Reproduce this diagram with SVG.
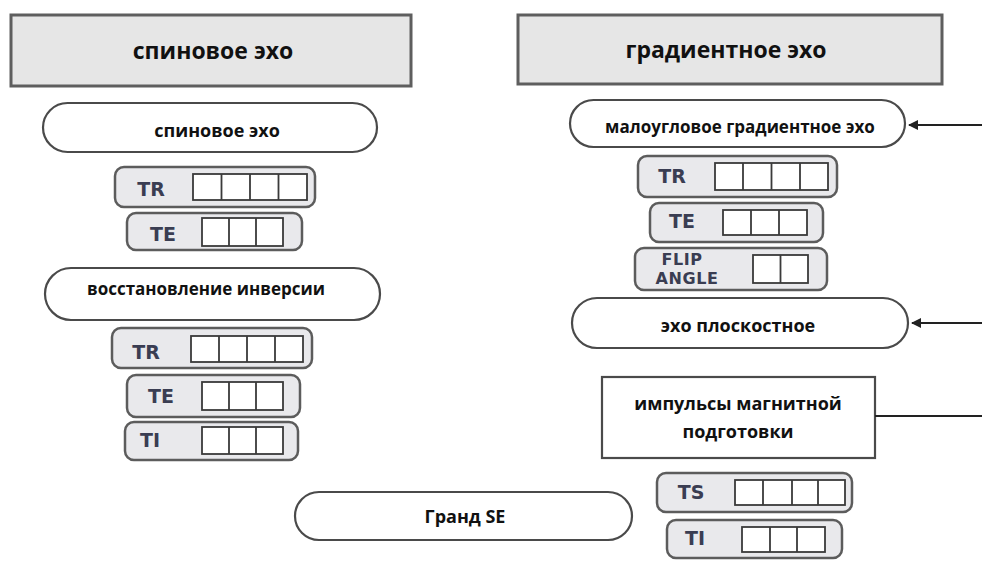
<svg xmlns="http://www.w3.org/2000/svg" width="982" height="569" viewBox="0 0 982 569">
<style>
  .hdr { fill: #e6e6e6; stroke: #5e5e5e; stroke-width: 3; }
  .pill { fill: #ffffff; stroke: #4a4a4a; stroke-width: 2.2; }
  .box { fill: #ffffff; stroke: #4a4a4a; stroke-width: 2.2; }
  .param { fill: #e9e9ec; stroke: #5c5c5c; stroke-width: 2.5; }
  .cells { fill: #ffffff; stroke: #3a3a3a; stroke-width: 1.8; }
  .div { stroke: #3a3a3a; stroke-width: 1.8; }
  .t { font-family: "Open Sans", "Noto Sans", "DejaVu Sans", sans-serif; font-weight: bold; fill: #111; text-anchor: middle; }
  .h { font-size: 23px; }
  .p { font-size: 17px; }
  .lbl { font-family: "DejaVu Sans", "Noto Sans", sans-serif; font-weight: bold; fill: #3a3d52; text-anchor: middle; font-size: 19px; }
  .lbls { font-family: "DejaVu Sans", "Noto Sans", sans-serif; font-weight: bold; fill: #3a3d52; text-anchor: middle; font-size: 16px; letter-spacing: 0.6px; }
  .conn { stroke: #222; stroke-width: 2; fill: none; }
</style>
<defs>
  <marker id="arr" viewBox="0 0 10 10" refX="9" refY="5" markerWidth="5" markerHeight="5" orient="auto">
    <path d="M0,0 L10,5 L0,10 Z" fill="#222"/>
  </marker>
</defs>

<g id="hdr-spin">
  <rect class="hdr" x="11" y="15" width="400" height="71"/>
  <text class="t h" x="213" y="59">спиновое эхо</text>
</g>
<g id="hdr-grad">
  <rect class="hdr" x="518" y="15" width="424" height="69"/>
  <text class="t h" x="726" y="58">градиентное эхо</text>
</g>

<g id="pill-se">
  <rect class="pill" x="43" y="103" width="334" height="49" rx="24.5"/>
  <text class="t" font-size="18" x="217" y="137">спиновое эхо</text>
</g>
<g id="se-tr">
  <rect class="param" x="115" y="167" width="200" height="40" rx="9"/>
  <text class="lbl" x="151" y="196">TR</text>
  <rect class="cells" x="193" y="174" width="114" height="26"/>
  <path class="div" d="M221.5,174v26M250,174v26M278.5,174v26"/>
</g>
<g id="se-te">
  <rect class="param" x="127" y="213" width="175" height="37" rx="9"/>
  <text class="lbl" x="163" y="241">TE</text>
  <rect class="cells" x="202" y="218" width="81" height="28"/>
  <path class="div" d="M229,218v28M256,218v28"/>
</g>

<g id="pill-ir">
  <rect class="pill" x="45" y="268" width="335" height="52" rx="26"/>
  <text class="t p" x="206" y="295">восстановление инверсии</text>
</g>
<g id="ir-tr">
  <rect class="param" x="112" y="328" width="200" height="40" rx="9"/>
  <text class="lbl" x="146" y="359">TR</text>
  <rect class="cells" x="191" y="336" width="112" height="26"/>
  <path class="div" d="M219,336v26M247,336v26M275,336v26"/>
</g>
<g id="ir-te">
  <rect class="param" x="127" y="375" width="173" height="42" rx="9"/>
  <text class="lbl" x="161" y="403">TE</text>
  <rect class="cells" x="202" y="382" width="81" height="28"/>
  <path class="div" d="M229,382v28M256,382v28"/>
</g>
<g id="ir-ti">
  <rect class="param" x="125" y="422" width="173" height="38" rx="9"/>
  <text class="lbl" x="150" y="447">TI</text>
  <rect class="cells" x="202" y="427" width="81" height="27"/>
  <path class="div" d="M229,427v27M256,427v27"/>
</g>

<g id="pill-flash">
  <rect class="pill" x="570" y="100" width="335" height="47" rx="23.5"/>
  <text class="t p" x="740" y="133">малоугловое градиентное эхо</text>
</g>
<g id="ge-tr">
  <rect class="param" x="638" y="156" width="199" height="41" rx="9"/>
  <text class="lbl" x="672" y="183">TR</text>
  <rect class="cells" x="715" y="163" width="113" height="27"/>
  <path class="div" d="M743,163v27M771.5,163v27M800,163v27"/>
</g>
<g id="ge-te">
  <rect class="param" x="650" y="203" width="173" height="39" rx="9"/>
  <text class="lbl" x="682" y="228">TE</text>
  <rect class="cells" x="723" y="210" width="84" height="25"/>
  <path class="div" d="M751,210v25M779,210v25"/>
</g>
<g id="ge-flip">
  <rect class="param" x="635" y="248" width="192" height="42" rx="9"/>
  <text class="lbls" x="682" y="265">FLIP</text>
  <text class="lbls" x="687" y="284">ANGLE</text>
  <rect class="cells" x="753" y="255" width="55" height="28"/>
  <path class="div" d="M780.5,255v28"/>
</g>

<g id="pill-epi">
  <rect class="pill" x="572" y="298" width="336" height="50" rx="25"/>
  <text class="t" font-size="18" x="738" y="332">эхо плоскостное</text>
</g>
<g id="box-mag">
  <rect class="box" x="602" y="377" width="273" height="81"/>
  <text class="t" font-size="18" x="738" y="410">импульсы магнитной</text>
  <text class="t" font-size="18" x="738" y="438">подготовки</text>
</g>
<g id="mag-ts">
  <rect class="param" x="657" y="473" width="195" height="39" rx="9"/>
  <text class="lbl" x="691" y="499">TS</text>
  <rect class="cells" x="735" y="480" width="110" height="25"/>
  <path class="div" d="M763,480v25M792,480v25M818,480v25"/>
</g>
<g id="mag-ti">
  <rect class="param" x="667" y="520" width="175" height="38" rx="9"/>
  <text class="lbl" x="695" y="545">TI</text>
  <rect class="cells" x="742" y="527" width="83" height="25"/>
  <path class="div" d="M770,527v25M797,527v25"/>
</g>

<g id="pill-grase">
  <rect class="pill" x="295" y="492" width="337" height="48" rx="24"/>
  <text class="t" font-size="18" x="465" y="523">Гранд SE</text>
</g>

<g id="connectors">
  <line class="conn" x1="982" y1="125" x2="909" y2="125" marker-end="url(#arr)"/>
  <line class="conn" x1="982" y1="323" x2="912" y2="323" marker-end="url(#arr)"/>
  <line class="conn" x1="875" y1="416" x2="982" y2="416"/>
</g>
</svg>
